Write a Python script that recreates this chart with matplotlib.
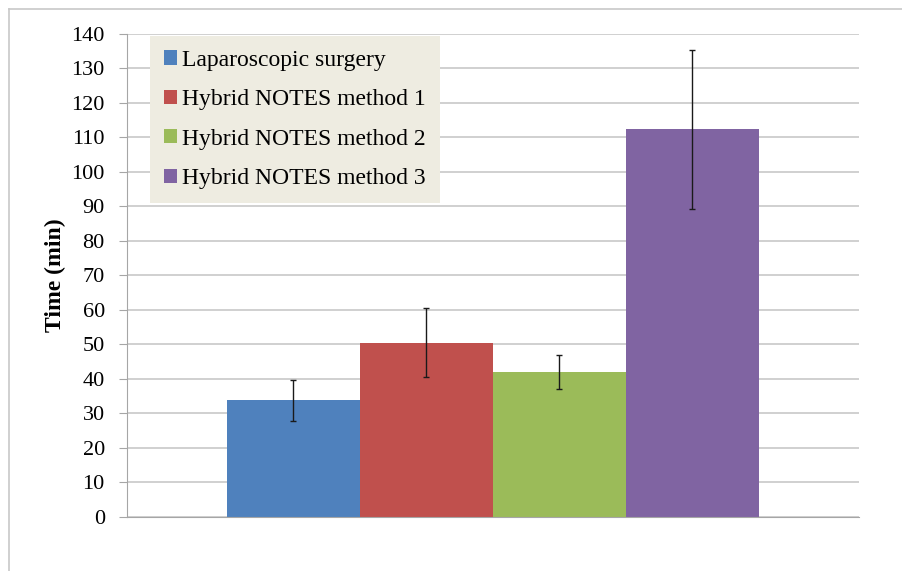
import numpy as np
import matplotlib.pyplot as plt
from matplotlib.lines import Line2D

# data
methods = ["Laparoscopic surgery", "Hybrid NOTES method 1",
           "Hybrid NOTES method 2", "Hybrid NOTES method 3"]
mean_time = [33.8, 50.5, 42.0, 112.3]
sd_time = [5.9, 10.0, 4.9, 23.1]
colors = ["#4F81BD", "#C0504D", "#9BBB59", "#8064A2"]

plt.rcParams['font.family'] = ['Liberation Serif', 'DejaVu Serif']

fig = plt.figure(figsize=(9.03, 5.71), dpi=100)
ax = fig.add_axes([127 / 903, 54 / 571, 732 / 903, 483.3 / 571])

# outer frame (only top and left edges show in the picture)
W, H = 903, 571
fig.add_artist(Line2D([8.5 / W, 8.5 / W], [0, 1 - 8.5 / H], color="#C8C8C8", lw=1.2,
                      transform=fig.transFigure))
fig.add_artist(Line2D([8.5 / W, 1], [1 - 8.5 / H, 1 - 8.5 / H], color="#C8C8C8", lw=1.2,
                      transform=fig.transFigure))

x = np.arange(len(methods))
for i in range(len(methods)):
    ax.bar(x[i], mean_time[i], width=1.0, color=colors[i], label=methods[i], zorder=2)
    ax.errorbar(x[i], mean_time[i], yerr=sd_time[i], fmt='none', ecolor='#1a1a1a',
                elinewidth=1, capsize=2.5, capthick=1, zorder=3)

ax.set_xlim(-0.5 - 100 / 133, 3.5 + 100 / 133)
ax.set_ylim(0, 140)
ax.set_yticks(np.arange(0, 141, 10))
ax.set_xticks([])
ax.yaxis.grid(True, color="#C4C4C4", lw=1.1, zorder=0)
ax.set_axisbelow(True)
for s in ["top", "right"]:
    ax.spines[s].set_visible(False)
ax.spines["left"].set_color("#A6A6A6")
ax.spines["bottom"].set_color("#A6A6A6")
ax.tick_params(axis='y', direction='out', length=6, color="#A6A6A6",
               labelsize=16, pad=10)
ax.set_ylabel("Time (min)", fontsize=17, fontweight='bold')
ax.yaxis.set_label_coords(-(127 - 66) / 732, 0.5)

leg = ax.legend(loc="upper left", bbox_to_anchor=(23 / 732, 1 - 2 / 483.3),
                borderaxespad=0, fontsize=17, frameon=True, fancybox=False,
                facecolor="#EEECE1", edgecolor="none", framealpha=1,
                handlelength=0.55, handleheight=0.55, handletextpad=0.2,
                labelspacing=0.78, borderpad=0.6)
leg.set_zorder(5)

fig.savefig("out.png", dpi=100)
